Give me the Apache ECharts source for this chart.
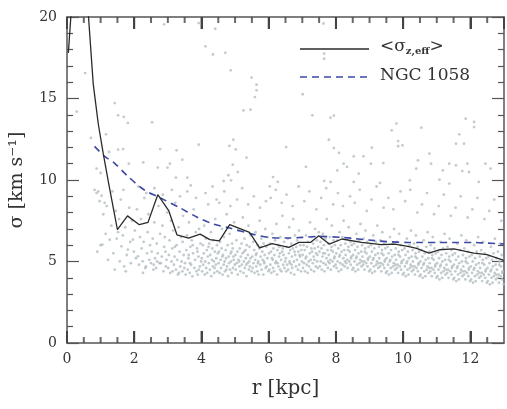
<!DOCTYPE html>
<html><head><meta charset="utf-8">
<script src="https://cdn.jsdelivr.net/npm/echarts@6/dist/echarts.min.js"></script>
<style>html,body{margin:0;padding:0;background:#fff}#c{width:507px;height:409px}</style>
</head><body><div id="c"></div>
<script>
// <sigma_z,eff> profile (black solid)
const effR = [0.04,0.35,0.64,0.78,0.93,1.08,1.25,1.5,1.8,2.15,2.41,2.7,3.03,3.27,3.62,3.96,4.25,4.53,4.84,5.43,5.73,6.1,6.6,6.9,7.24,7.49,7.8,8.18,8.76,9.35,9.75,10.14,10.4,10.77,11.07,11.51,12.1,12.49,13.0];
const effSigma = [17.8,27,20.0,15.9,13.45,11.6,9.67,6.95,7.8,7.26,7.4,9.1,8.1,6.64,6.44,6.68,6.34,6.27,7.26,6.79,5.83,6.1,5.87,6.17,6.17,6.58,6.07,6.38,6.17,6.03,6.07,5.93,5.8,5.52,5.72,5.77,5.52,5.42,5.07];
// NGC 1058 profile (blue dashed)
const ngcR = [0.82,1.12,1.41,1.8,2.29,2.78,3.37,3.86,4.35,4.84,5.43,6.0,6.6,7.0,7.5,8.18,8.5,9.16,9.5,10.14,10.5,11.12,11.5,12.1,12.5,13.0];
const ngcSigma = [12.06,11.45,11.04,10.25,9.4,8.9,8.28,7.73,7.3,7.05,6.72,6.48,6.44,6.48,6.54,6.48,6.42,6.28,6.22,6.17,6.17,6.17,6.17,6.17,6.13,6.07];
// individual particles (grey points)
const particles = [
[2.89,19.55],[3.92,19.63],[4.41,19.28],[4.12,18.2],[4.34,17.7],[4.71,17.8],[4.87,16.73],[0.54,16.56],[5.49,16.28],[5.64,15.85],[5.64,15.5],[5.59,15.09],[0.29,14.2],[1.42,14.72],[1.52,13.97],[1.69,13.87],[1.81,13.5],[2.53,13.54],[5.25,14.27],[5.46,14.31],[0.71,12.58],[1.16,12.8],[1.52,11.86],[1.67,11.9],[1.25,11.72],[2.77,11.9],[3.26,11.82],[3.92,12.17],[4.83,12.09],[4.95,12.47],[5.02,11.88],[5.34,11.37],[2.27,11.08],[1.84,11.0],[3.06,11.0],[3.43,11.25],[2.7,10.76],[2.99,10.76],[0.88,10.7],[1.0,10.43],[4.93,10.94],[5.08,10.49],[4.8,10.29],[3.24,10.14],[3.58,10.14],[4.66,9.94],[4.88,9.98],[6.13,10.18],[6.27,9.88],[3.68,9.67],[6.03,9.61],
[7.63,19.6],[7.65,17.75],[7.65,17.44],[7.01,15.26],[7.3,13.97],[7.84,13.82],[7.94,13.95],[11.86,13.76],[12.11,13.56],[12.11,13.25],[9.8,13.46],[10.54,13.21],[9.66,13.05],[11.67,12.8],[11.81,12.23],[11.57,12.23],[7.79,12.47],[7.94,11.96],[8.09,11.66],[9.07,11.98],[9.85,12.39],[9.98,12.13],[8.53,11.45],[8.82,11.45],[9.04,11.0],[9.41,11.04],[9.85,12.07],[10.44,11.21],[10.78,11.62],[10.83,11.0],[11.37,11.0],[11.57,10.9],[11.91,11.0],[12.45,11.0],[12.6,10.7],[8.23,11.0],[8.33,10.8],[7.11,10.8],[6.52,12.02],[8.04,10.59],[8.68,10.39],[10.39,10.7],[11.18,10.59],[11.76,10.55],[11.96,10.49],[7.65,9.94],[7.84,9.88],[8.53,9.88],[9.31,9.82],[10.2,9.98],[11.08,10.02],[11.37,9.78],[12.25,9.88],
[0.82,9.4],[0.88,9.2],[0.93,9.3],[0.97,8.7],[1.0,6.0],[0.9,5.6],
[1.03,9.04],[1.08,7.9],[1.12,8.6],[1.18,8.4],[1.05,6.03],[1.27,6.34],[1.32,7.2],[1.38,5.5],[1.42,4.5],[1.45,8.1],[1.22,5.1],[1.15,6.7],[1.35,9.3],[1.48,6.4],
[1.57,5.01],[1.62,5.93],[1.55,7.6],[1.6,8.8],[1.66,6.6],[1.7,4.7],[1.73,7.1],[1.78,5.4],[1.81,5.73],[1.85,8.3],[1.88,6.2],[1.9,4.9],[1.93,7.5],[1.96,6.34],[1.99,5.6],[1.52,6.8],[1.68,9.4],[1.75,4.4],
[2.02,6.9],[2.05,5.2],[2.08,8.2],[2.11,5.32],[2.14,4.8],[2.17,6.5],[2.2,7.6],[2.22,5.8],[2.25,5.01],[2.28,6.2],[2.3,8.9],[2.33,4.6],[2.35,4.7],[2.38,5.5],[2.4,6.8],[2.42,7.9],[2.45,5.1],[2.47,6.0],[2.5,4.9],[2.12,9.6],[2.36,9.2],[2.26,4.3],
[2.52,5.6],[2.55,6.4],[2.57,4.5],[2.6,7.4],[2.62,5.2],[2.65,4.6],[2.67,6.1],[2.7,5.5],[2.72,8.4],[2.75,4.9],[2.77,6.7],[2.79,4.9],[2.82,5.3],[2.84,7.2],[2.87,4.4],[2.89,5.9],[2.91,6.5],[2.94,4.7],[2.96,5.1],[2.98,8.0],[2.6,9.5],[2.85,9.1],[2.68,5.0],[2.93,5.6],[2.58,4.8],
[3.01,4.6],[3.03,5.4],[3.05,6.3],[3.07,4.3],[3.09,7.5],[3.11,5.0],[3.13,5.8],[3.14,4.4],[3.16,6.9],[3.18,4.8],[3.2,5.3],[3.22,8.6],[3.24,4.5],[3.26,6.0],[3.28,5.1],[3.3,4.2],[3.32,7.1],[3.33,4.3],[3.35,5.6],[3.37,4.7],[3.39,6.5],[3.41,5.0],[3.43,4.4],[3.45,7.8],[3.47,5.4],[3.49,4.6],[3.12,9.4],[3.36,9.0],[3.21,5.9],[3.44,6.2],
[3.51,4.9],[3.53,4.19],[3.55,5.7],[3.57,6.6],[3.59,4.5],[3.61,5.2],[3.63,7.4],[3.65,4.3],[3.67,5.9],[3.69,4.8],[3.71,6.3],[3.73,4.09],[3.75,5.5],[3.77,8.2],[3.79,4.6],[3.81,5.1],[3.83,6.8],[3.85,4.4],[3.87,5.8],[3.89,4.2],[3.91,5.3],[3.93,7.0],[3.95,4.7],[3.97,6.1],[3.99,5.0],[3.58,9.3],[3.84,8.9],[3.62,5.4],[3.74,6.0],[3.88,5.6],[3.66,4.9],[3.92,4.5],
[4.01,5.2],[4.02,4.4],[4.04,6.0],[4.05,4.8],[4.07,5.5],[4.08,7.2],[4.1,4.2],[4.11,5.0],[4.13,6.4],[4.14,4.6],[4.16,5.7],[4.17,4.3],[4.19,5.3],[4.2,8.5],[4.22,4.9],[4.23,6.1],[4.25,4.5],[4.26,5.4],[4.28,6.8],[4.29,4.1],[4.31,5.1],[4.32,5.8],[4.34,4.7],[4.35,6.3],[4.37,5.0],[4.38,4.3],[4.4,5.6],[4.41,7.6],[4.43,4.8],[4.44,5.2],[4.46,6.0],[4.47,4.4],[4.49,5.5],[4.12,9.2],[4.33,9.6],[4.45,8.8],[4.21,5.9],[4.39,4.6],
[4.51,4.9],[4.52,5.6],[4.54,4.3],[4.55,6.2],[4.57,5.1],[4.58,4.6],[4.6,5.8],[4.61,7.0],[4.63,4.2],[4.64,5.4],[4.66,4.8],[4.67,6.5],[4.69,5.0],[4.7,4.4],[4.72,5.7],[4.73,5.2],[4.75,7.9],[4.76,4.7],[4.78,6.0],[4.79,4.1],[4.81,5.3],[4.82,4.9],[4.84,6.7],[4.85,4.5],[4.87,5.5],[4.88,5.0],[4.9,4.3],[4.91,6.1],[4.93,5.8],[4.94,4.6],[4.96,5.1],[4.97,7.4],[4.99,4.8],[4.53,8.6],[4.68,9.3],[4.86,8.4],[4.62,5.3],[4.74,4.5],[4.89,5.6],[4.95,5.3],
[5.01,5.4],[5.02,4.5],[5.04,6.3],[5.05,4.9],[5.07,5.6],[5.08,4.2],[5.1,5.1],[5.11,6.9],[5.13,4.7],[5.14,5.8],[5.16,4.4],[5.17,5.3],[5.19,6.1],[5.2,4.8],[5.22,5.5],[5.23,7.7],[5.25,4.3],[5.26,5.0],[5.28,6.4],[5.29,4.6],[5.31,5.7],[5.32,5.2],[5.34,4.1],[5.35,6.0],[5.37,4.9],[5.38,5.4],[5.4,7.2],[5.41,4.5],[5.43,5.9],[5.44,4.7],[5.46,5.2],[5.47,6.6],[5.49,4.4],[5.06,8.8],[5.21,9.5],[5.39,8.5],[5.12,5.0],[5.27,5.6],[5.42,5.0],[5.33,4.8],
[5.51,5.3],[5.52,4.6],[5.54,6.2],[5.55,4.9],[5.57,5.7],[5.58,4.3],[5.6,5.1],[5.61,6.8],[5.63,4.7],[5.64,5.5],[5.66,4.4],[5.67,6.0],[5.69,5.0],[5.7,4.2],[5.72,5.8],[5.73,7.5],[5.75,4.8],[5.76,5.3],[5.78,6.4],[5.79,4.5],[5.81,5.6],[5.82,5.1],[5.84,4.2],[5.85,6.1],[5.87,4.9],[5.88,5.4],[5.9,7.0],[5.91,4.6],[5.93,5.9],[5.94,4.7],[5.96,5.2],[5.97,6.5],[5.99,4.4],[5.56,9.0],[5.74,8.3],[5.92,8.7],[5.62,5.4],[5.77,5.9],[5.86,5.0],[5.68,4.9],
[6.01,5.5],[6.02,4.5],[6.04,6.1],[6.05,4.8],[6.07,5.6],[6.08,4.3],[6.1,5.2],[6.11,6.7],[6.13,4.6],[6.14,5.8],[6.16,4.4],[6.17,5.4],[6.19,6.3],[6.2,4.9],[6.22,5.0],[6.23,7.3],[6.25,4.2],[6.26,5.7],[6.28,6.0],[6.29,4.7],[6.31,5.3],[6.32,5.9],[6.34,4.5],[6.35,6.5],[6.37,5.1],[6.38,4.4],[6.4,5.6],[6.41,7.8],[6.43,4.8],[6.44,5.4],[6.46,6.2],[6.47,4.6],[6.49,5.0],[6.06,8.9],[6.21,9.4],[6.39,8.6],[6.12,5.1],[6.27,4.9],[6.42,5.8],[6.33,5.5],
[6.51,5.2],[6.52,4.4],[6.54,5.9],[6.55,4.8],[6.57,6.4],[6.58,4.5],[6.6,5.5],[6.61,7.1],[6.63,4.9],[6.64,5.7],[6.66,4.3],[6.67,6.1],[6.69,5.3],[6.7,4.6],[6.72,5.8],[6.73,7.6],[6.75,5.0],[6.76,4.2],[6.78,6.6],[6.79,5.4],[6.81,4.7],[6.82,5.9],[6.84,5.1],[6.85,6.3],[6.87,4.5],[6.88,5.6],[6.9,6.9],[6.91,4.8],[6.93,5.3],[6.94,6.0],[6.96,4.4],[6.97,5.7],[6.99,5.0],[6.53,9.1],[6.71,8.4],[6.89,9.6],[6.62,5.0],[6.77,5.6],[6.92,5.4],[6.68,4.8],
[7.01,5.4],[7.02,4.6],[7.04,6.0],[7.05,4.9],[7.07,5.7],[7.08,4.4],[7.1,5.2],[7.11,6.6],[7.13,4.8],[7.14,5.9],[7.16,4.3],[7.17,6.2],[7.19,5.0],[7.2,4.7],[7.22,5.5],[7.23,7.4],[7.25,5.1],[7.26,4.5],[7.28,6.5],[7.29,5.6],[7.31,4.9],[7.32,6.1],[7.34,5.3],[7.35,4.4],[7.37,5.8],[7.38,7.0],[7.4,4.7],[7.41,5.5],[7.43,6.3],[7.44,5.0],[7.46,4.6],[7.47,5.9],[7.49,6.8],[7.06,8.7],[7.21,9.3],[7.42,8.2],[7.12,5.3],[7.27,5.8],[7.36,5.1],[7.45,5.4],
[7.51,5.6],[7.52,4.7],[7.54,6.2],[7.55,5.0],[7.57,5.8],[7.58,4.5],[7.6,5.3],[7.61,6.7],[7.63,4.9],[7.64,6.0],[7.66,4.4],[7.67,5.5],[7.69,6.4],[7.7,4.8],[7.72,5.2],[7.73,7.6],[7.75,5.7],[7.76,4.6],[7.78,6.1],[7.79,5.4],[7.81,4.9],[7.82,6.5],[7.84,5.1],[7.85,4.5],[7.87,5.9],[7.88,7.2],[7.9,5.0],[7.91,5.6],[7.93,6.3],[7.94,4.7],[7.96,5.3],[7.97,6.0],[7.99,4.8],[7.56,8.9],[7.71,9.5],[7.92,8.5],[7.62,5.5],[7.77,5.0],[7.86,5.7],[7.95,5.2],
[8.01,5.5],[8.02,4.6],[8.04,6.3],[8.05,5.0],[8.07,5.8],[8.08,4.4],[8.1,5.3],[8.11,6.8],[8.13,4.9],[8.14,6.0],[8.16,4.5],[8.17,5.6],[8.19,6.5],[8.2,4.8],[8.22,5.2],[8.23,7.5],[8.25,5.7],[8.26,4.7],[8.28,6.1],[8.29,5.4],[8.31,4.9],[8.32,6.4],[8.34,5.1],[8.35,4.6],[8.37,5.9],[8.38,7.1],[8.4,5.0],[8.41,5.6],[8.43,6.2],[8.44,4.8],[8.46,5.3],[8.47,6.0],[8.49,4.5],[8.06,9.2],[8.21,8.4],[8.42,9.0],[8.12,5.4],[8.27,5.0],[8.36,5.7],[8.45,5.2],
[8.51,5.4],[8.52,4.6],[8.54,6.1],[8.55,5.0],[8.57,5.7],[8.58,4.4],[8.6,5.2],[8.61,6.7],[8.63,4.8],[8.64,5.9],[8.66,4.5],[8.67,5.5],[8.69,6.3],[8.7,4.9],[8.72,5.1],[8.73,7.3],[8.75,5.6],[8.76,4.7],[8.78,6.0],[8.79,5.3],[8.81,4.8],[8.82,6.4],[8.84,5.0],[8.85,4.5],[8.87,5.8],[8.88,6.9],[8.9,4.9],[8.91,5.5],[8.93,6.2],[8.94,4.7],[8.96,5.2],[8.97,5.9],[8.99,4.4],[8.56,8.6],[8.71,9.4],[8.92,8.1],[8.62,5.3],[8.77,5.0],[8.86,5.6],[8.95,5.1],
[9.01,5.3],[9.02,4.5],[9.04,6.0],[9.05,4.9],[9.07,5.6],[9.08,4.3],[9.1,5.1],[9.11,6.6],[9.13,4.7],[9.14,5.8],[9.16,4.4],[9.17,5.4],[9.19,6.2],[9.2,4.8],[9.22,5.0],[9.23,7.2],[9.25,5.5],[9.26,4.6],[9.28,5.9],[9.29,5.2],[9.31,4.7],[9.32,6.3],[9.34,4.9],[9.35,4.4],[9.37,5.7],[9.38,6.8],[9.4,4.8],[9.41,5.4],[9.43,6.1],[9.44,4.6],[9.46,5.1],[9.47,5.8],[9.49,4.3],[9.06,8.8],[9.21,9.6],[9.42,8.3],[9.12,5.2],[9.27,4.9],[9.36,5.5],[9.45,5.0],
[9.51,5.2],[9.52,4.4],[9.54,5.9],[9.55,4.8],[9.57,5.5],[9.58,4.2],[9.6,5.0],[9.61,6.5],[9.63,4.6],[9.64,5.7],[9.66,4.3],[9.67,5.3],[9.69,6.1],[9.7,4.7],[9.72,4.9],[9.73,7.0],[9.75,5.4],[9.76,4.5],[9.78,5.8],[9.79,5.1],[9.81,4.6],[9.82,6.2],[9.84,4.8],[9.85,4.3],[9.87,5.6],[9.88,6.7],[9.9,4.7],[9.91,5.3],[9.93,6.0],[9.94,4.5],[9.96,5.0],[9.97,5.7],[9.99,4.2],[9.56,8.9],[9.71,8.2],[9.92,9.3],[9.62,5.1],[9.77,4.8],[9.86,5.4],[9.95,4.9],
[10.01,5.1],[10.02,4.3],[10.04,5.8],[10.05,4.7],[10.07,5.4],[10.08,4.1],[10.1,4.9],[10.11,6.4],[10.13,4.5],[10.14,5.6],[10.16,4.2],[10.17,5.2],[10.19,6.0],[10.2,4.6],[10.22,4.8],[10.23,6.9],[10.25,5.3],[10.26,4.4],[10.28,5.7],[10.29,5.0],[10.31,4.5],[10.32,6.1],[10.34,4.7],[10.35,4.2],[10.37,5.5],[10.38,6.6],[10.4,4.6],[10.41,5.2],[10.43,5.9],[10.44,4.4],[10.46,4.9],[10.47,5.6],[10.49,4.1],[10.06,8.7],[10.21,9.4],[10.42,8.0],[10.12,5.0],[10.27,4.7],[10.36,5.3],[10.45,4.8],
[10.51,5.0],[10.52,4.2],[10.54,5.7],[10.55,4.6],[10.57,5.3],[10.58,4.0],[10.6,4.8],[10.61,6.3],[10.63,4.4],[10.64,5.5],[10.66,4.1],[10.67,5.1],[10.69,5.9],[10.7,4.5],[10.72,4.7],[10.73,6.8],[10.75,5.2],[10.76,4.3],[10.78,5.6],[10.79,4.9],[10.81,4.4],[10.82,6.0],[10.84,4.6],[10.85,4.1],[10.87,5.4],[10.88,6.5],[10.9,4.5],[10.91,5.1],[10.93,5.8],[10.94,4.3],[10.96,4.8],[10.97,5.5],[10.99,4.0],[10.56,8.5],[10.71,9.2],[10.92,7.9],[10.62,4.9],[10.77,4.6],[10.86,5.2],[10.95,4.7],
[11.01,4.9],[11.02,4.1],[11.04,5.6],[11.05,4.5],[11.07,5.2],[11.08,3.9],[11.1,4.7],[11.11,6.2],[11.13,4.3],[11.14,5.4],[11.16,4.0],[11.17,5.0],[11.19,5.8],[11.2,4.4],[11.22,4.6],[11.23,6.7],[11.25,5.1],[11.26,4.2],[11.28,5.5],[11.29,4.8],[11.31,4.3],[11.32,5.9],[11.34,4.5],[11.35,4.0],[11.37,5.3],[11.38,6.4],[11.4,4.4],[11.41,5.0],[11.43,5.7],[11.44,4.2],[11.46,4.7],[11.47,5.4],[11.49,3.9],[11.06,8.4],[11.21,9.1],[11.42,7.8],[11.12,4.8],[11.27,4.5],[11.36,5.1],[11.45,4.6],
[11.51,4.8],[11.52,4.0],[11.54,5.5],[11.55,4.4],[11.57,5.1],[11.58,3.8],[11.6,4.6],[11.61,6.1],[11.63,4.2],[11.64,5.3],[11.66,3.9],[11.67,4.9],[11.69,5.7],[11.7,4.3],[11.72,4.5],[11.73,6.6],[11.75,5.0],[11.76,4.1],[11.78,5.4],[11.79,4.7],[11.81,4.2],[11.82,5.8],[11.84,4.4],[11.85,3.9],[11.87,5.2],[11.88,6.3],[11.9,4.3],[11.91,4.9],[11.93,5.6],[11.94,4.1],[11.96,4.6],[11.97,5.3],[11.99,3.8],[11.56,8.3],[11.71,9.0],[11.92,7.7],[11.62,4.7],[11.77,4.4],[11.86,5.0],[11.95,4.5],
[12.01,4.7],[12.02,3.9],[12.04,5.4],[12.05,4.3],[12.07,5.0],[12.08,3.7],[12.1,4.5],[12.11,6.0],[12.13,4.1],[12.14,5.2],[12.16,3.8],[12.17,4.8],[12.19,5.6],[12.2,4.2],[12.22,4.4],[12.23,6.5],[12.25,4.9],[12.26,4.0],[12.28,5.3],[12.29,4.6],[12.31,4.1],[12.32,5.7],[12.34,4.3],[12.35,3.8],[12.37,5.1],[12.38,6.2],[12.4,4.2],[12.41,4.8],[12.43,5.5],[12.44,4.0],[12.46,4.5],[12.47,5.2],[12.49,3.7],[12.06,8.2],[12.21,8.9],[12.42,7.6],[12.12,4.6],[12.27,4.3],[12.36,4.9],[12.45,4.4],
[12.51,4.6],[12.52,3.8],[12.54,5.3],[12.55,4.2],[12.57,4.9],[12.58,3.6],[12.6,4.4],[12.61,5.9],[12.63,4.0],[12.64,5.1],[12.66,3.7],[12.67,4.7],[12.69,5.5],[12.7,4.1],[12.72,4.3],[12.73,6.4],[12.75,4.8],[12.76,3.9],[12.78,5.2],[12.79,4.5],[12.81,4.0],[12.82,5.6],[12.84,4.2],[12.85,3.7],[12.87,5.0],[12.88,6.1],[12.9,4.1],[12.91,4.7],[12.93,5.4],[12.94,3.9],[12.96,4.4],[12.97,5.1],[12.99,3.6],[12.56,8.1],[12.71,8.8],[12.92,7.5],[12.62,4.5],[12.77,4.2],[12.86,4.8],[12.95,4.3]
];
const xTicks = [0,2,4,6,8,10,12];
const xMinorTicks = [0.5,1,1.5,2.5,3,3.5,4.5,5,5.5,6.5,7,7.5,8.5,9,9.5,10.5,11,11.5,12.5];
const yTicks = [0,5,10,15,20];

const chart = echarts.init(document.getElementById('c'), null, {renderer:'canvas'});
const frame = '#555';
const font = 'DejaVu Serif';
function yAx(pos, labels){
  return {type:'value', position:pos, min:0, max:20, interval:5,
    axisLine:{show:true, onZero:false, lineStyle:{color:frame, width:1.5}},
    axisTick:{show:true, inside:true, length:12, lineStyle:{color:frame, width:1.2}},
    minorTick:{show:true, splitNumber:5, length:6, lineStyle:{color:frame, width:1.2}},
    axisLabel:{show:labels, color:'#333', fontFamily:font, fontSize:14, margin:10,
      formatter: v => yTicks.includes(v) ? String(v) : ''},
    splitLine:{show:false},
    name: labels ? 'σ [km s⁻¹]' : '', nameLocation:'middle', nameGap:40,
    nameTextStyle:{fontFamily:font, fontSize:19, color:'#333'}};
}
// x-axis tick marks drawn as thin rectangles placed through the axis scale
function tickMarks(vals, edge, len){
  return {type:'scatter', data:vals.map(v=>[v,edge]), symbol:'rect', symbolSize:[2,len],
    symbolOffset:[0, edge===0 ? -len/2 : len/2], itemStyle:{color:'#444'}, silent:true, clip:false, z:20};
}
chart.setOption({
  animation:false,
  backgroundColor:'#fff',
  grid:{left:62, right:3, top:17, bottom:66, containLabel:false},
  xAxis:[
    {type:'value', position:'bottom', min:0, max:13, interval:2,
     axisLine:{show:true, onZero:false, lineStyle:{color:frame, width:1.5}},
     axisTick:{show:true, inside:true, length:12, lineStyle:{color:'#444', width:2}},
     axisLabel:{color:'#333', fontFamily:font, fontSize:14, margin:9, showMaxLabel:false},
     splitLine:{show:false},
     name:'r [kpc]', nameLocation:'middle', nameGap:36,
     nameTextStyle:{fontFamily:font, fontSize:20, color:'#333'}},
    {type:'value', position:'top', min:0, max:13, interval:2,
     axisLine:{show:true, onZero:false, lineStyle:{color:frame, width:1.5}},
     axisTick:{show:true, inside:true, length:12, lineStyle:{color:'#444', width:2}},
     axisLabel:{show:false}, splitLine:{show:false}}
  ],
  yAxis:[yAx('left',true), yAx('right',false)],
  series:[
    {type:'scatter', name:'particles', data:particles, symbolSize:2.8, symbol:'circle',
     itemStyle:{color:'#b3bec2'}, silent:true},
    {type:'line', name:'NGC 1058', data:ngcR.map((r,i)=>[r,ngcSigma[i]]), showSymbol:false, smooth:0.3,
     lineStyle:{color:'#3b48a6', width:1.6, type:[7,5]}},
    {type:'line', name:'<σz,eff>', data:effR.map((r,i)=>[r,effSigma[i]]), showSymbol:false, clip:true,
     lineStyle:{color:'#2a2a2a', width:1.3}},
    tickMarks(xTicks, 0, 12), tickMarks(xTicks, 20, 12),
    tickMarks(xMinorTicks, 0, 6), tickMarks(xMinorTicks, 20, 6)
  ],
  graphic:[
    {type:'line', shape:{x1:300,y1:49,x2:369,y2:49}, style:{stroke:'#2a2a2a', lineWidth:1.3}},
    {type:'text', left:380, top:38, style:{text:'{t|<σ}{s|z,eff}{t|>}', rich:{
      t:{fontFamily:font, fontSize:17, fill:'#333'},
      s:{fontFamily:font, fontSize:10, fontWeight:'bold', fill:'#333', padding:[9,0,0,0]}}}},
    {type:'line', shape:{x1:300,y1:77,x2:369,y2:77}, style:{stroke:'#3b48a6', lineWidth:1.6, lineDash:[7,5]}},
    {type:'text', left:380, top:67, style:{text:'NGC 1058', fontFamily:font, fontSize:17, fill:'#333'}}
  ]
});
</script></body></html>
